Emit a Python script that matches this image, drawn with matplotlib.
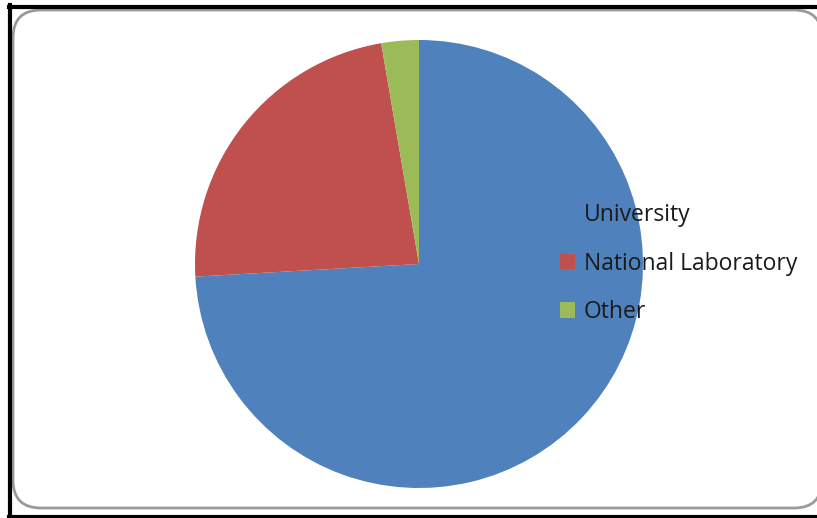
import matplotlib.pyplot as plt
from matplotlib.patches import FancyBboxPatch, Patch
from matplotlib.lines import Line2D
from matplotlib.transforms import IdentityTransform

# Data
labels = ['University', 'National Laboratory', 'Other']
shares = [74.1, 23.2, 2.7]
colors = ['#4F81BD', '#C0504D', '#9BBB59']

W, H = 817, 518
fig = plt.figure(figsize=(W / 100, H / 100), dpi=100)

# outer frame: black edges + grey rounded box (pixel coords, origin bottom-left)
px = IdentityTransform()
box = FancyBboxPatch((13, 10), 822 - 13, 508 - 10,
                     boxstyle='round,pad=0,rounding_size=28',
                     transform=px, facecolor='white',
                     edgecolor='#9a9a9a', lw=2, zorder=-2)
fig.add_artist(box)
fig.add_artist(Line2D([9, W], [H - 6.5, H - 6.5], color='black', lw=3, transform=px))
fig.add_artist(Line2D([10, 10], [0, H - 5], color='black', lw=3, transform=px))
fig.add_artist(Line2D([9, W], [1.5, 1.5], color='black', lw=3, transform=px))

# pie
ax = fig.add_axes([195 / W, (H - 488) / H, 448 / W, 448 / H])
ax.pie(shares, colors=colors, startangle=90, counterclock=False,
       radius=1, wedgeprops=dict(linewidth=0))
ax.set_xlim(-1, 1)
ax.set_ylim(-1, 1)
ax.set_aspect('equal')
ax.axis('off')

handles = [Patch(facecolor=c, edgecolor='none') for c in colors]
leg = fig.legend(handles, labels, loc='upper left',
                 bbox_to_anchor=(560 / W, 1 - 203 / H),
                 frameon=False, prop=dict(family='Open Sans', size=16.5),
                 handlelength=0.65, handleheight=0.65, handletextpad=0.4,
                 labelspacing=1.07, borderpad=0, borderaxespad=0)
leg.set_zorder(5)
for t in leg.get_texts():
    t.set_color('#1a1a1a')

fig.savefig('out.png', dpi=100)
